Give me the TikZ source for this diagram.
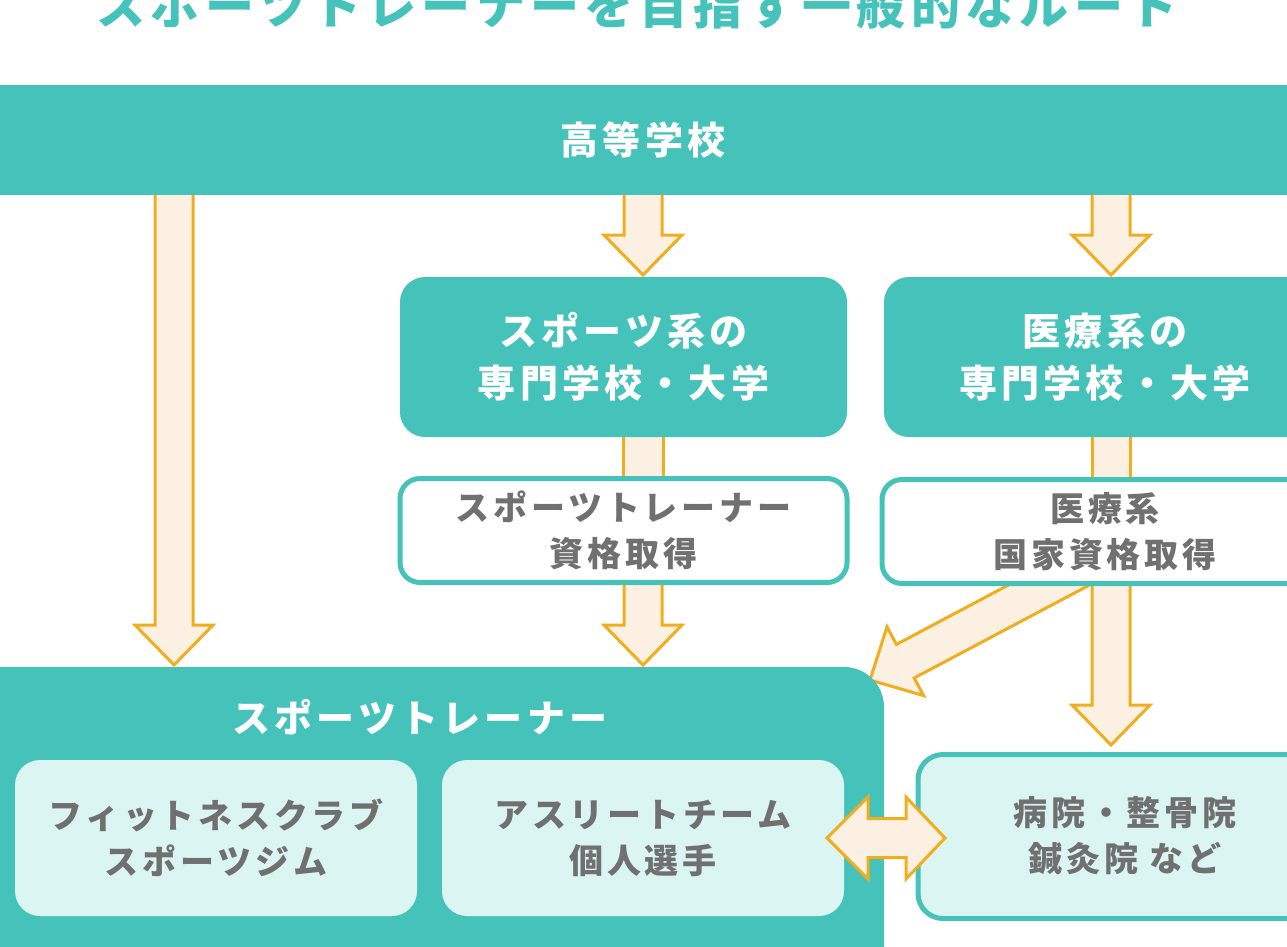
\documentclass[tikz,border=0pt]{standalone}
\usepackage{fontspec}
\setmainfont{Noto Sans CJK JP}[LetterSpace=11]
\usetikzlibrary{positioning}

\definecolor{route}{HTML}{45C2B9}
\definecolor{pale}{HTML}{DBF5F3}
\definecolor{ink}{HTML}{707070}
\definecolor{amber}{HTML}{F0AE1F}
\definecolor{cream}{HTML}{FBF0E2}

% hollow arrow pointing down: x, top y, tip y
\newcommand{\downarr}[3]{%
  \draw[hollow] (#1-19,#2) -- (#1+19,#2) -- (#1+19,#3-40) -- (#1+39,#3-40)
    -- (#1,#3) -- (#1-39,#3-40) -- (#1-19,#3-40) -- cycle;}

\begin{document}
\begin{tikzpicture}[x=1pt, y=-1pt,
  hollow/.style = {draw=amber, fill=cream, line width=3pt, line join=miter},
  band/.style   = {fill=route, text=white, align=center,
                   font=\bfseries\fontsize{38}{52}\selectfont},
  school/.style = {band, rounded corners=25, minimum width=447, minimum height=160},
  licence/.style= {draw=route, line width=5pt, fill=white, text=ink, align=center,
                   rounded corners=20, minimum width=442, minimum height=104,
                   font=\bfseries\fontsize{34}{46}\selectfont},
  job/.style    = {fill=pale, text=ink, align=center, rounded corners=25,
                   minimum width=402, minimum height=156,
                   font=\bfseries\fontsize{34}{46}\selectfont}
  ]
  \useasboundingbox (0,0) rectangle (1287,946);
  \clip (0,0) rectangle (1287,946);

  % title, partly cut at the top
  \node[text=route, anchor=base, font=\bfseries\fontsize{49}{52}\selectfont]
    (title) at (637,24) {スポーツトレーナーを目指す一般的なルート};

  % arrows first, boxes cover their tails
  \downarr{174}{190}{665}
  \downarr{643}{190}{275}
  \downarr{1111}{190}{275}
  \draw[hollow] (623,430) rectangle (663,485);
  \draw[hollow] (1092,430) rectangle (1130,485);
  \downarr{643}{580}{665}
  \downarr{1111}{580}{745}
  % slanted arrow to the trainer box
  \draw[hollow] (1099.7,579.6) -- (1081.9,546.0) -- (896.4,644.4) -- (887.0,626.8)
    -- (870,680) -- (923.6,695.6) -- (914.2,678.0) -- cycle;

  % high school band
  \node[band, minimum width=1310, minimum height=110] (high) at (643,140) {高等学校};

  % schools
  \node[school] (sport) at (623.5,357) {スポーツ系の\\専門学校・大学};
  \node[school, minimum width=442] (medic) at (1105,357) {医療系の\\専門学校・大学};

  % licences
  \node[licence, minimum width=447] (sportlic) at (623.5,530.5) {スポーツトレーナー\\資格取得};
  \node[licence, minimum width=446] (mediclic) at (1105,531.5) {医療系\\国家資格取得};

  % trainer
  \node[fill=route, rounded corners=40, minimum width=944, minimum height=340]
    (trainer) at (412,837) {};
  \node[text=white, font=\bfseries\fontsize{38}{40}\selectfont]
    (trainertitle) at (420,717) {スポーツトレーナー};
  \node[job] (gym) at (216,838) {フィットネスクラブ\\スポーツジム};
  \node[job] (team) at (643,838) {アスリートチーム\\個人選手};

  % hospitals
  \node[job, draw=route, line width=5pt, minimum width=414, minimum height=164]
    (clinic) at (1125,836.5) {病院・整骨院\\鍼灸院 など};

  % two-way arrow
  \draw[hollow] (827,838) -- (868,797) -- (868,818.5) -- (906,818.5) -- (906,797)
    -- (945,838) -- (906,879) -- (906,857.5) -- (868,857.5) -- (868,879) -- cycle;
\end{tikzpicture}
\end{document}
